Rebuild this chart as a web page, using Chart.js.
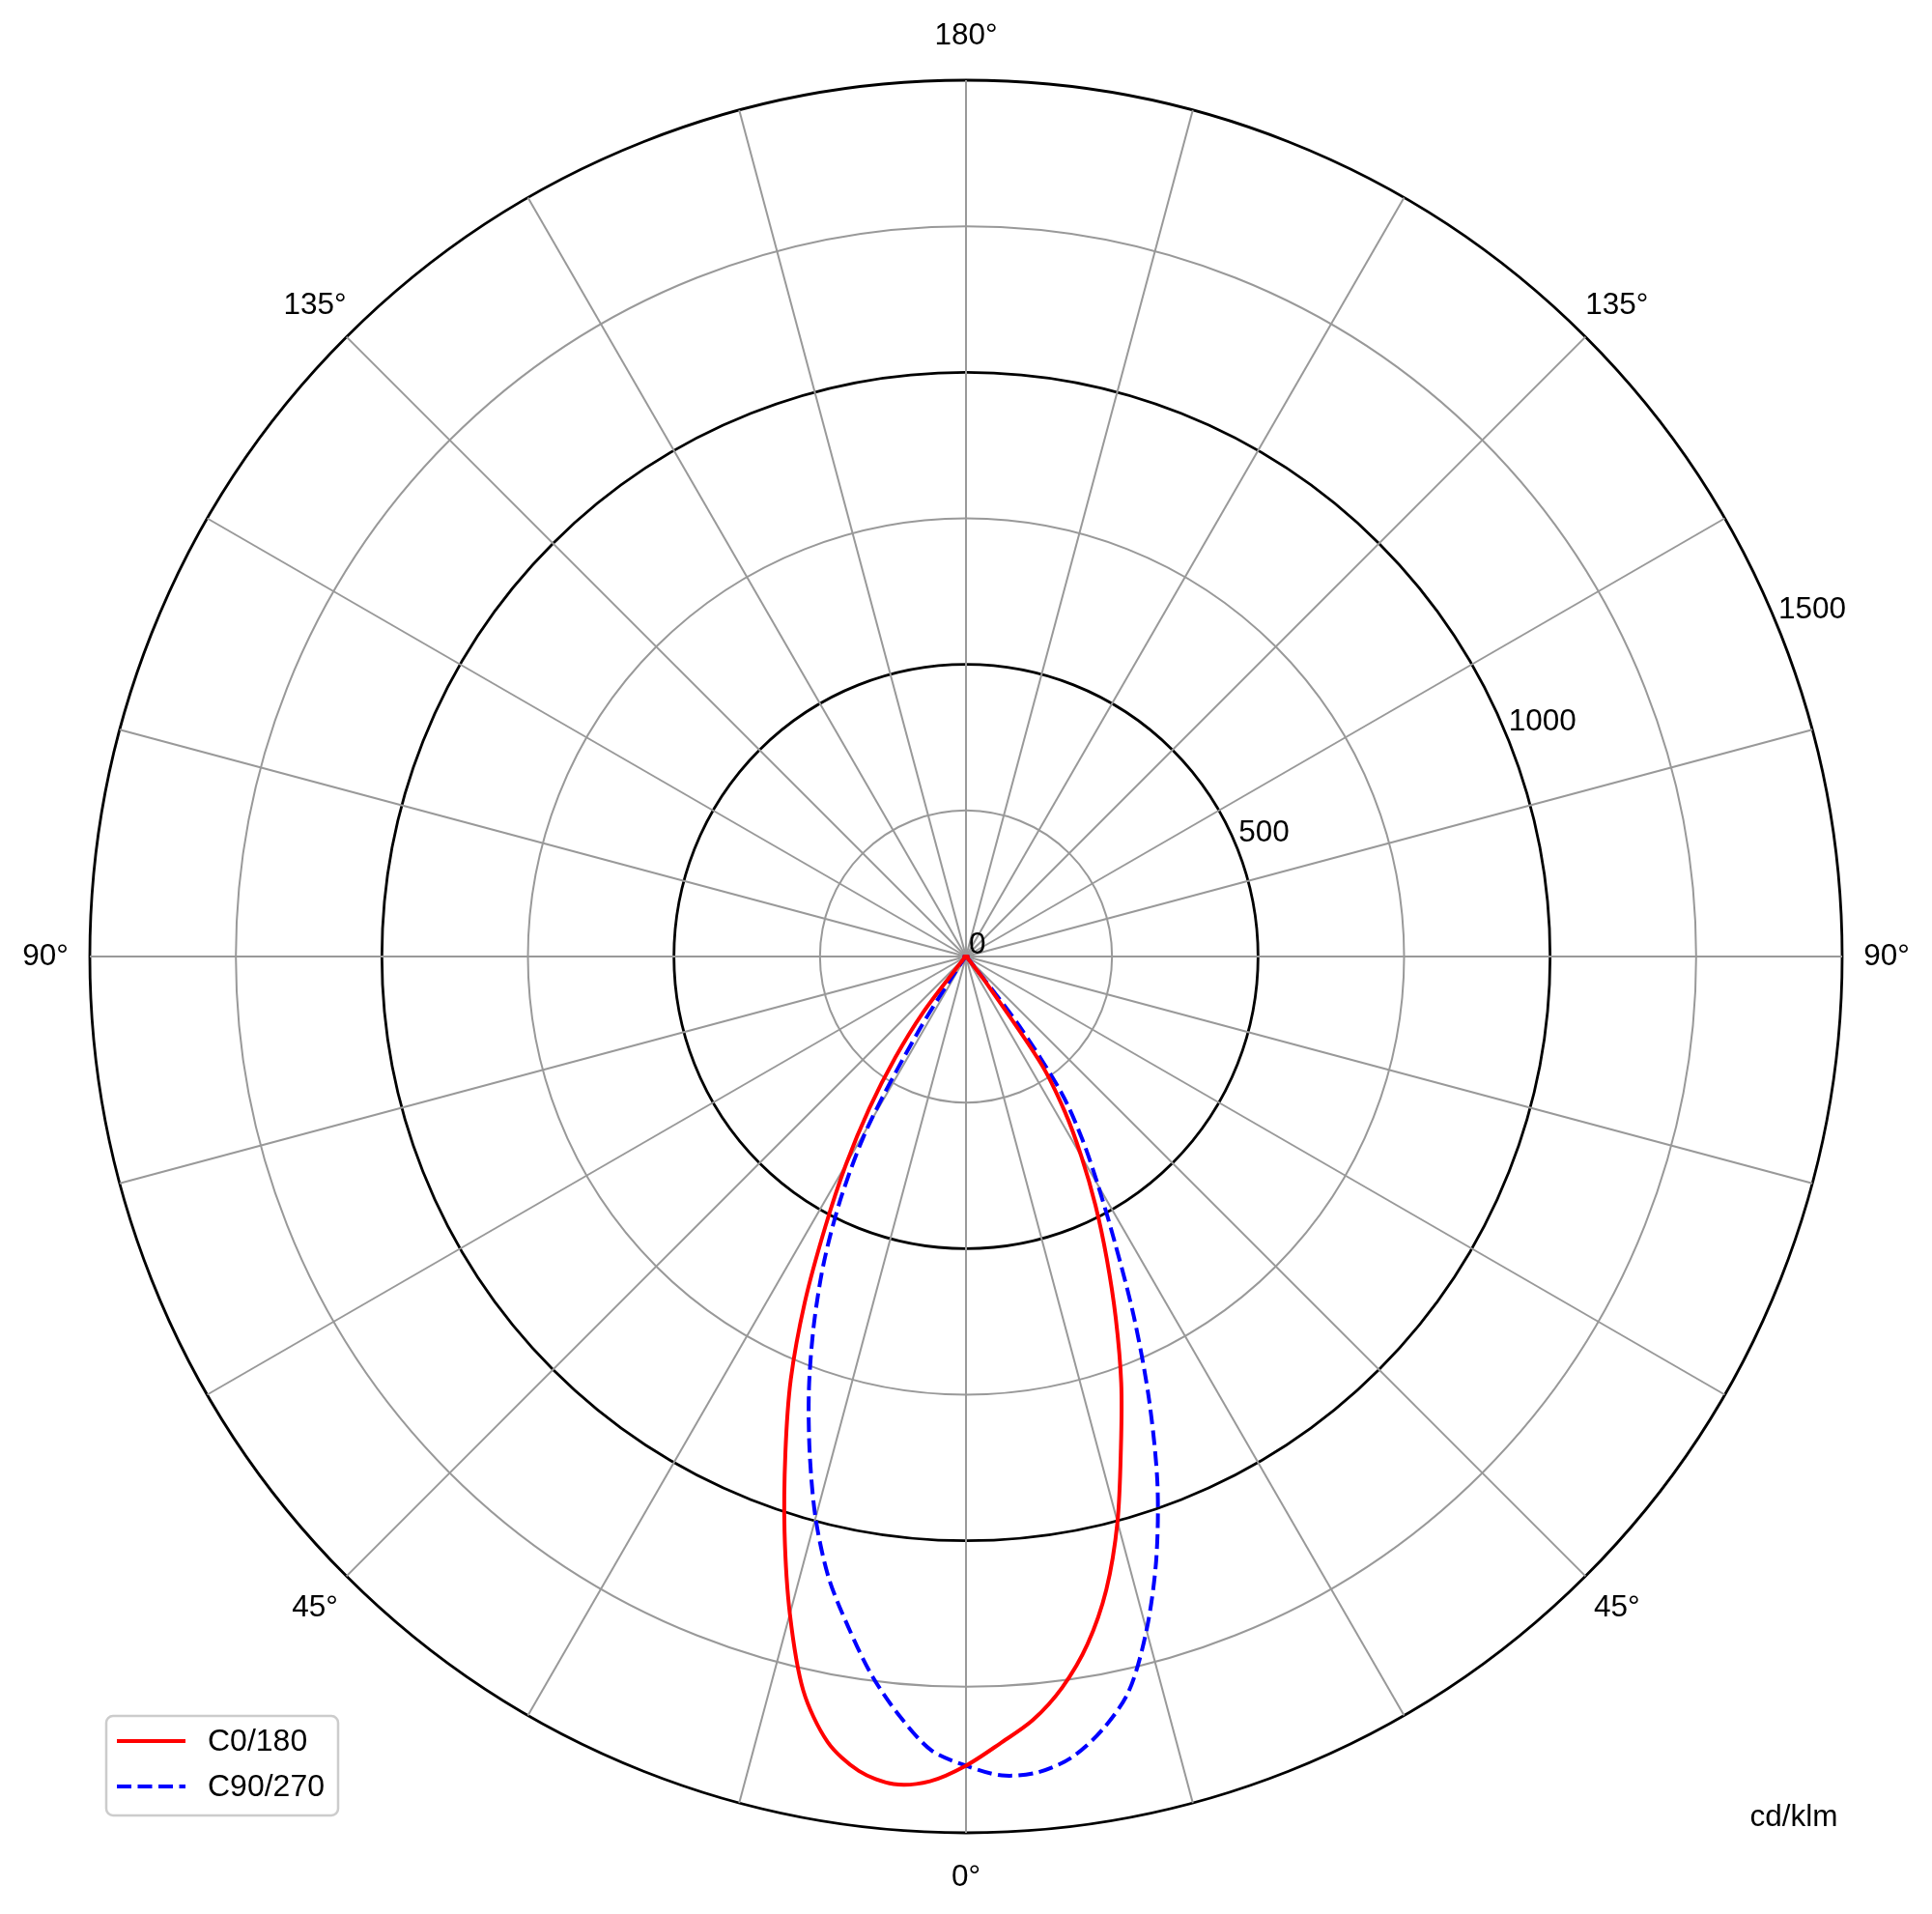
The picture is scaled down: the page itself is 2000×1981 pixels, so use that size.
<!DOCTYPE html>
<html><head><meta charset="utf-8">
<script src="https://cdn.jsdelivr.net/npm/chart.js@4.4.1/dist/chart.umd.min.js"></script>
<style>html,body{margin:0;padding:0;background:#fff}#wrap{width:2000px;height:1981px}</style>
</head><body><div id="wrap"><canvas id="c" width="2000" height="1981"></canvas></div>
<script>
// Sample spacing of gamma (deg); each half-plane array runs gamma = 0 .. 180
const gammaStep = 2.5;

// C0/180 – right half (gamma 0..180)
const c0Right = [1385,1348,1312,1262,1196,1110,1002,882,777,670,570,480,395,315,225,60,12,6,4,
  3,3,3,3,3,3,3,3,3,3,3,3,3,3,3,3,3,3,
  0,0,0,0,0,0,0,0,0,0,0,0,0,0,0,0,0,0,0,0,0,0,0,0,0,0,0,0,0,0,0,0,0,0,0,0];
// C0/180 – left half
const c0Left = [1385,1413,1422,1406,1365,1287,1165,1033,904,784,653,522,411,308,211,122,22,8,5,
  3,3,3,3,3,3,3,3,3,3,3,3,3,3,3,3,3,3,
  0,0,0,0,0,0,0,0,0,0,0,0,0,0,0,0,0,0,0,0,0,0,0,0,0,0,0,0,0,0,0,0,0,0,0,0];
// C90/270 – right half
const c90Right = [1385,1403,1402,1383,1344,1288,1194,1083,958,818,680,552,452,370,285,150,22,8,5,
  3,3,3,3,3,3,3,3,3,3,3,3,3,3,3,3,3,3,
  0,0,0,0,0,0,0,0,0,0,0,0,0,0,0,0,0,0,0,0,0,0,0,0,0,0,0,0,0,0,0,0,0,0,0,0];
// C90/270 – left half
const c90Left = [1385,1360,1305,1240,1164,1088,995,890,786,680,574,460,333,150,28,8,5,4,4,
  3,3,3,3,3,3,3,3,3,3,3,3,3,3,3,3,3,3,
  0,0,0,0,0,0,0,0,0,0,0,0,0,0,0,0,0,0,0,0,0,0,0,0,0,0,0,0,0,0,0,0,0,0,0,0];

const seriesNames = ['C0/180', 'C90/270'];
const seriesColors = ['#ff0000', '#0000ff'];
const angleTickLabels = ['180°','135°','90°','45°','0°','45°','90°','135°']; // every 45° clockwise from top
const radialTickValues = [0, 500, 1000, 1500];
const radialTickLabels = ['0', '500', '1000', '1500'];
const unitLabel = 'cd/klm';

// ---- build full-circle radar data (index 0 at top, clockwise) ----
const nPts = Math.round(360 / gammaStep);
const labels = [];
function fullCircle(right, left) {
  const out = [];
  for (let i = 0; i < nPts; i++) {
    const th = i * gammaStep;
    if (th <= 180) out.push(right[Math.round((180 - th) / gammaStep)]);
    else out.push(left[Math.round((th - 180) / gammaStep)]);
  }
  return out;
}
for (let i = 0; i < nPts; i++) {
  const th = i * gammaStep;
  labels.push(th % 45 === 0 ? angleTickLabels[th / 45] : '');
}

const FONT = '"Liberation Sans", Arial, Helvetica, sans-serif';
const FS = 31.5;

const textPlugin = {
  id: 'polarText',
  afterDraw(chart) {
    const s = chart.scales.r, ctx = chart.ctx;
    ctx.save();
    ctx.fillStyle = '#000';
    ctx.font = FS + 'px ' + FONT;
    ctx.textAlign = 'center'; ctx.textBaseline = 'middle';
    angleTickLabels.forEach((t, k) => {
      const p = s.getPointPosition(k * 45 / gammaStep, s.drawingArea + 46);
      ctx.fillText(t, p.x, p.y);
    });
    ctx.textAlign = 'left'; ctx.textBaseline = 'alphabetic';
    const rIdx = 67.5 / gammaStep;
    radialTickValues.forEach((v, k) => {
      const p = s.getPointPosition(rIdx, s.getDistanceFromCenterForValue(v));
      ctx.fillText(radialTickLabels[k], p.x + 3, p.y - 3);
    });
    ctx.textAlign = 'center'; ctx.textBaseline = 'middle';
    ctx.fillText(unitLabel, 1857, 1881);

    // legend
    const bx = 110, by = 1776, bw = 240, bh = 103, rr = 7;
    ctx.beginPath();
    ctx.moveTo(bx + rr, by); ctx.lineTo(bx + bw - rr, by); ctx.arcTo(bx + bw, by, bx + bw, by + rr, rr);
    ctx.lineTo(bx + bw, by + bh - rr); ctx.arcTo(bx + bw, by + bh, bx + bw - rr, by + bh, rr);
    ctx.lineTo(bx + rr, by + bh); ctx.arcTo(bx, by + bh, bx, by + bh - rr, rr);
    ctx.lineTo(bx, by + rr); ctx.arcTo(bx, by, bx + rr, by, rr); ctx.closePath();
    ctx.fillStyle = 'rgba(255,255,255,0.8)'; ctx.fill();
    ctx.strokeStyle = '#cccccc'; ctx.lineWidth = 2.5; ctx.stroke();
    chart.data.datasets.forEach((ds, k) => {
      const y = 1802 + k * 47;
      ctx.beginPath(); ctx.setLineDash(ds.borderDash || []);
      ctx.strokeStyle = ds.borderColor; ctx.lineWidth = ds.borderWidth; ctx.lineCap = 'butt';
      ctx.moveTo(121, y); ctx.lineTo(192, y); ctx.stroke();
      ctx.setLineDash([]);
      ctx.fillStyle = '#000'; ctx.textAlign = 'left'; ctx.textBaseline = 'middle';
      ctx.font = '32px ' + FONT;
      ctx.fillText(ds.label, 215, y + 1);
    });
    ctx.restore();
  }
};

new Chart(document.getElementById('c'), {
  type: 'radar',
  data: {
    labels: labels,
    datasets: [
      { label: seriesNames[0], data: fullCircle(c0Right, c0Left), borderColor: seriesColors[0], borderWidth: 4, fill: false, pointRadius: 0, tension: 0.3 },
      { label: seriesNames[1], data: fullCircle(c90Right, c90Left), borderColor: seriesColors[1], borderWidth: 4, borderDash: [15, 6.5], fill: false, pointRadius: 0, tension: 0.3 }
    ]
  },
  options: {
    responsive: false,
    devicePixelRatio: 1,
    animation: false,
    layout: { padding: { left: 93, right: 93, top: 83, bottom: 84 } },
    plugins: { legend: { display: false }, tooltip: { enabled: false } },
    scales: {
      r: {
        min: 0, max: 1500,
        startAngle: 0,
        ticks: { display: false, stepSize: 250 },
        pointLabels: { display: false },
        grid: {
          circular: true,
          color: (c) => (c.tick && c.tick.value % 500 === 0) ? '#000000' : '#999999',
          lineWidth: (c) => (c.tick && c.tick.value % 500 === 0) ? 2.8 : 2
        },
        angleLines: {
          display: true,
          color: (c) => (c.index * gammaStep) % 15 === 0 ? '#999999' : 'rgba(0,0,0,0)',
          lineWidth: (c) => (c.index * gammaStep) % 15 === 0 ? 2 : 0
        }
      }
    }
  },
  plugins: [textPlugin]
});
</script></body></html>
